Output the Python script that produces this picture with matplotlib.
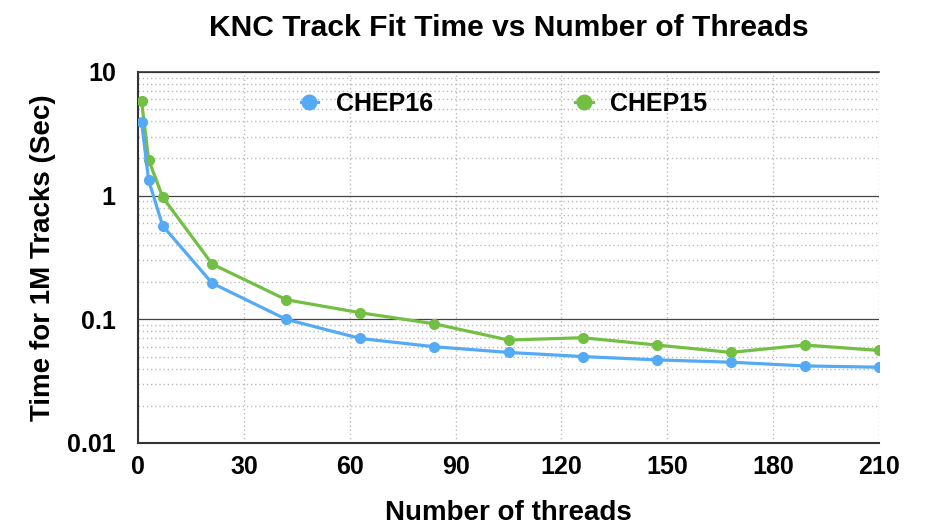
import numpy as np
import matplotlib.pyplot as plt
from matplotlib.ticker import FixedLocator, NullFormatter, NullLocator

# threads on the KNC card and fit time for 1M tracks (sec)
threads = [1, 3, 7, 21, 42, 63, 84, 105, 126, 147, 168, 189, 210]
chep16 = [3.95, 1.33, 0.57, 0.196, 0.100, 0.070, 0.060, 0.054, 0.050, 0.047, 0.045, 0.042, 0.041]
chep15 = [5.8, 1.95, 0.97, 0.28, 0.144, 0.113, 0.092, 0.068, 0.071, 0.062, 0.054, 0.062, 0.056]

x_ticks = [0, 30, 60, 90, 120, 150, 180, 210]
y_ticks = [0.01, 0.1, 1, 10]
y_tick_labels = ["0.01", "0.1", "1", "10"]

blue = "#55aaf5"
green = "#72bf44"

plt.rcParams["font.family"] = ["Liberation Sans", "DejaVu Sans"]
plt.rcParams["font.weight"] = "bold"

fig = plt.figure(figsize=(9.27, 5.25), dpi=100)
ax = fig.add_axes([0.1489, 0.1562, 0.7993, 0.7067])

ax.plot(threads, chep16, color=blue, lw=2.3, marker="o", ms=7, label="CHEP16", zorder=4)
ax.plot(threads, chep15, color=green, lw=2.3, marker="o", ms=7, label="CHEP15", zorder=3)

ax.set_yscale("log")
ax.set_xlim(0, 210)
ax.set_ylim(0.01, 10)

ax.set_xticks(x_ticks)
ax.set_xticklabels([str(t) for t in x_ticks])
ax.xaxis.set_minor_locator(NullLocator())
ax.yaxis.set_major_locator(FixedLocator(y_ticks))
ax.set_yticklabels(y_tick_labels)
minors = [m * d for d in [0.01, 0.1, 1] for m in range(2, 10)]
ax.yaxis.set_minor_locator(FixedLocator(minors))
ax.yaxis.set_minor_formatter(NullFormatter())

ax.tick_params(axis="both", which="both", length=0, labelsize=18)
ax.tick_params(axis="x", pad=9)
ax.tick_params(axis="y", pad=16)

# grid
ax.grid(axis="y", which="major", color="#444444", lw=0.9, ls="-")
ax.grid(axis="y", which="minor", color="#bbbbbb", lw=1.0, ls=(0, (1, 2)))
ax.grid(axis="x", which="major", color="#bbbbbb", lw=1.0, ls=(0, (1, 2)))
ax.set_axisbelow(True)

for s in ["top", "right"]:
    ax.spines[s].set_visible(False)
ax.spines["left"].set_color("#333333")
ax.spines["left"].set_linewidth(1.5)
ax.spines["bottom"].set_color("#333333")
ax.spines["bottom"].set_linewidth(1.5)
ax.axhline(10, color="#333333", lw=1.2, clip_on=False)

ax.set_title("KNC Track Fit Time vs Number of Threads", fontsize=21.6, fontweight="bold", pad=26)
ax.set_xlabel("Number of threads", fontsize=20, fontweight="bold", labelpad=15)
ax.set_ylabel("Time for 1M Tracks (Sec)", fontsize=20, fontweight="bold", labelpad=8)

ax.legend(loc="center", bbox_to_anchor=(0.494, 0.914), ncol=2, frameon=False,
          fontsize=18, handlelength=0.7, handletextpad=0.7, columnspacing=5.7,
          markerscale=1.5)

fig.savefig("out.png", dpi=100)
